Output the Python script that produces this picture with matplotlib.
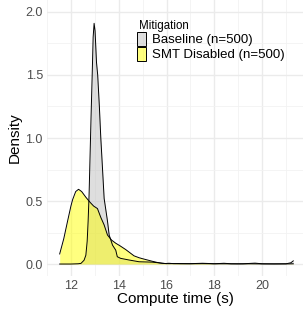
import numpy as np
import matplotlib
matplotlib.use("Agg")
import matplotlib.pyplot as plt
from matplotlib.patches import Rectangle

plt.rcParams["font.family"] = ["Liberation Sans", "DejaVu Sans"]

# density curves
base_x = [11.53, 12.0, 12.3, 12.42, 12.55, 12.625, 12.68, 12.72, 12.76, 12.8,
          12.84, 12.89, 12.93, 12.97, 13.01, 13.07, 13.12, 13.19, 13.25, 13.29,
          13.39, 13.53, 13.6, 13.74, 13.875, 13.94, 14.08, 14.43, 14.85, 15.4,
          15.7, 15.95, 16.1, 16.3, 16.6, 17.0, 17.5, 18.0, 18.4, 18.7, 19.2,
          19.7, 20.0, 20.5, 21.0, 21.2, 21.3]
base_d = [0.0, 0.0, 0.002, 0.005, 0.03, 0.07, 0.18, 0.34, 0.55, 0.85,
          1.15, 1.5, 1.8, 1.91, 1.85, 1.6, 1.5, 1.25, 1.0, 0.865,
          0.52, 0.34, 0.23, 0.15, 0.11, 0.058, 0.045, 0.032, 0.018, 0.015,
          0.009, 0.004, 0.006, 0.003, 0.002, 0.002, 0.003, 0.002, 0.006, 0.002, 0.002,
          0.007, 0.002, 0.001, 0.002, 0.01, 0.025]

smt_x = [11.53, 11.7, 11.86, 12.0, 12.07, 12.2, 12.32, 12.45, 12.625, 12.8,
         12.95, 13.11, 13.25, 13.39, 13.53, 13.7, 13.875, 14.05, 14.29, 14.5,
         14.64, 14.85, 15.0, 15.2, 15.4, 15.6, 15.8, 16.0, 16.5, 17.0, 17.5,
         17.8, 18.0, 18.5, 19.0, 19.5, 20.0, 20.5, 21.0, 21.3]
smt_d = [0.08, 0.2, 0.34, 0.46, 0.51, 0.575, 0.593, 0.575, 0.53, 0.49,
         0.46, 0.44, 0.37, 0.31, 0.23, 0.19, 0.165, 0.145, 0.115, 0.085,
         0.065, 0.05, 0.042, 0.032, 0.022, 0.013, 0.006, 0.003, 0.004, 0.003, 0.006,
         0.004, 0.002, 0.002, 0.001, 0.002, 0.001, 0.001, 0.001, 0.002]

labels = ["Baseline (n=500)", "SMT Disabled (n=500)"]
fills = ["#bebebe", "#ffff00"]
x_ticks = [12, 14, 16, 18, 20]
y_ticks = [0.0, 0.5, 1.0, 1.5, 2.0]

W, H = 303, 310
fig = plt.figure(figsize=(W / 100, H / 100), dpi=100)
ax = fig.add_axes([47 / W, (H - 276) / H, (W - 47) / W, 276 / H])

for xs, ds, col in [(base_x, base_d, fills[0]), (smt_x, smt_d, fills[1])]:
    ax.fill_between(xs, 0, ds, color=col, alpha=0.5, linewidth=0)
    ax.plot(xs, ds, color="black", linewidth=0.7)

ax.set_xlim(11.04, 11.04 + 256 / 24)
ax.set_ylim(-0.095, 2.095)

ax.set_xticks(x_ticks)
ax.set_xticks(np.arange(11, 22, 2), minor=True)
ax.set_yticks(y_ticks)
ax.set_yticks([0.25, 0.75, 1.25, 1.75], minor=True)
ax.set_yticklabels([f"{v:.1f}" for v in y_ticks])
ax.grid(which="major", color="#ebebeb", linewidth=1.0)
ax.grid(which="minor", color="#f2f2f2", linewidth=0.6)
ax.set_axisbelow(True)
for s in ax.spines.values():
    s.set_visible(False)
ax.tick_params(which="both", length=0, labelsize=9, labelcolor="#4d4d4d", pad=3)

ax.set_xlabel("Compute time (s)", fontsize=11, labelpad=0)
ax.set_ylabel("Density", fontsize=11, labelpad=3)

# legend drawn by hand, top of panel
fig.text(139 / W, 1 - 26 / H, "Mitigation", fontsize=8.3, va="center", ha="left")
for i, (lab, col) in enumerate(zip(labels, fills)):
    y0 = 32 + i * 15
    fig.patches.append(Rectangle((137 / W, 1 - (y0 + 14) / H), 9 / W, 14 / H,
                                 transform=fig.transFigure, facecolor=col, alpha=0.5,
                                 edgecolor="none"))
    fig.patches.append(Rectangle((137 / W, 1 - (y0 + 14) / H), 9 / W, 14 / H,
                                 transform=fig.transFigure, facecolor="none",
                                 edgecolor="black", linewidth=0.7))
    fig.text(152 / W, 1 - (y0 + 8) / H, lab, fontsize=9.5, va="center", ha="left")

fig.savefig("out.png", dpi=100)
